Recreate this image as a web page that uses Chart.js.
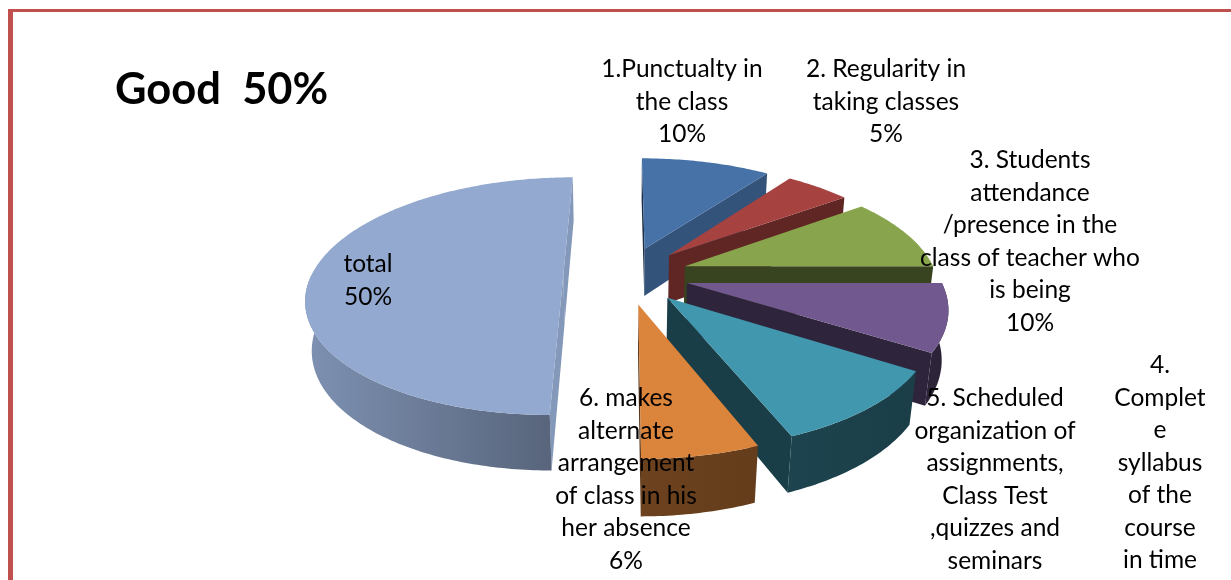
<!DOCTYPE html>
<html>
<head>
<meta charset="utf-8">
<title>Good 50%</title>
<script src="https://cdn.jsdelivr.net/npm/chart.js@4.4.1/dist/chart.umd.min.js"></script>
<style>
  html, body { margin: 0; padding: 0; background: #fff; overflow: hidden; }
  canvas { display: block; }
</style>
</head>
<body>
<canvas id="pieChart" width="1231" height="580"></canvas>
<script>
// slice names (line breaks as they wrap in the labels) and their shares in %
const categories = [
  '1.Punctualty in\nthe class',
  '2. Regularity in\ntaking classes',
  '3. Students\nattendance\n/presence in the\nclass of teacher who\nis being',
  '4.\nComplet\ne\nsyllabus\nof the\ncourse\nin time',
  '5. Scheduled\norganization of\nassignments,\nClass Test\n,quizzes and\nseminars',
  '6. makes\nalternate\narrangement\nof class in his\nher absence',
  'total'
];
const values = [10, 5, 10, 9, 10, 6, 50];
const chartTitle = 'Good  50%';

// look of the slices
const topColors = ['#4672a8', '#a6423f', '#88a44c', '#71588f', '#4097ae', '#da843c', '#93a9cf'];
// label anchor per slice: centre x, baseline of first line
const labelAnchors = [[682, 77], [886, 77], [1030, 168], [1160, 373], [995, 406], [626, 406], [368, 272]];
const LINE_H = 32.5;

const DEPTH = 57;      // thickness of the pie
const EXPLODE = 64;    // how far each slice is pulled out
// simple perspective camera looking down on the pie
const CAM_SIN = 0.457, CAM_COS = 0.889, CAM_DIST = 1285, FOCAL = 1259;

function shade(hex, f) {
  const n = parseInt(hex.slice(1), 16);
  const r = Math.round(((n >> 16) & 255) * f);
  const g = Math.round(((n >> 8) & 255) * f);
  const b = Math.round((n & 255) * f);
  return `rgb(${r},${g},${b})`;
}

// u: right, w: towards viewer, h: up  ->  screen point
function makeProjector(cx, cy) {
  return (u, w, h) => {
    const z = CAM_DIST - w * CAM_COS - h * CAM_SIN;
    return [cx + FOCAL * u / z, cy + FOCAL * (w * CAM_SIN - h * CAM_COS) / z];
  };
}

// draws the arcs as an exploded 3D pie (sides first, then top face, slice by slice)
const pie3d = {
  id: 'pie3d',
  beforeDatasetsDraw(chart) {
    const ctx = chart.ctx;
    const meta = chart.getDatasetMeta(0);
    const camW = CAM_DIST * CAM_COS;

    const poly = pts => {
      ctx.beginPath();
      pts.forEach(([px, py], k) => (k ? ctx.lineTo(px, py) : ctx.moveTo(px, py)));
      ctx.closePath();
    };

    meta.data.forEach((arc, i) => {
      const { x, y, startAngle, endAngle, outerRadius } =
        arc.getProps(['x', 'y', 'startAngle', 'endAngle', 'outerRadius'], true);
      const proj = makeProjector(x, y);
      const mid = (startAngle + endAngle) / 2;
      const eu = Math.cos(mid) * EXPLODE;
      const ew = Math.sin(mid) * EXPLODE;
      const R = outerRadius;
      const top = topColors[i];

      const rimPts = (t1, t2, h) => {
        const n = Math.max(2, Math.ceil(Math.abs(t2 - t1) / 0.015));
        const pts = [];
        for (let k = 0; k <= n; k++) {
          const t = t1 + (t2 - t1) * k / n;
          pts.push(proj(eu + R * Math.cos(t), ew + R * Math.sin(t), h));
        }
        return pts;
      };

      // cut faces that turn towards the camera
      [
        [startAngle, Math.sin(startAngle), -Math.cos(startAngle)],
        [endAngle, -Math.sin(endAngle), Math.cos(endAngle)]
      ].forEach(([a, nu, nw]) => {
        const facing = nu * (0 - eu) + nw * (camW - ew);
        if (facing <= 0) return;
        const ru = eu + R * Math.cos(a);
        const rw = ew + R * Math.sin(a);
        poly([proj(eu, ew, 0), proj(ru, rw, 0), proj(ru, rw, -DEPTH), proj(eu, ew, -DEPTH)]);
        ctx.fillStyle = shade(top, 0.41 + 0.49 * Math.max(0, nu) ** 2);
        ctx.fill();
      });

      // rounded outer wall, front half only
      const a1 = Math.max(startAngle, 0);
      const a2 = Math.min(endAngle, Math.PI);
      if (a2 > a1) {
        const g = ctx.createLinearGradient(x - R - EXPLODE, 0, x + R + EXPLODE, 0);
        g.addColorStop(0, shade(top, 0.86));
        g.addColorStop(0.52, shade(top, 0.5));
        g.addColorStop(1, shade(top, 0.4));
        poly(rimPts(a1, a2, 0).concat(rimPts(a2, a1, -DEPTH)));
        ctx.fillStyle = g;
        ctx.fill();
      }

      // top face
      poly([proj(eu, ew, 0)].concat(rimPts(startAngle, endAngle, 0)));
      ctx.fillStyle = top;
      ctx.fill();
    });
    return false;
  },
  afterDraw(chart) {
    const ctx = chart.ctx;
    ctx.save();

    // frame lines
    ctx.fillStyle = '#c0504d';
    ctx.fillRect(8, 9, chart.width, 3);
    ctx.fillRect(8, 9, 5, chart.height);

    // title
    ctx.fillStyle = '#000';
    ctx.font = 'bold 43.5px Lato';
    ctx.textAlign = 'left';
    ctx.textBaseline = 'alphabetic';
    ctx.fillText(chartTitle, 115, 104);

    // data labels
    ctx.font = '24.5px Lato';
    ctx.textAlign = 'center';
    categories.forEach((name, i) => {
      const lines = name.split('\n').concat(values[i] + '%');
      const [ax, ay] = labelAnchors[i];
      lines.forEach((line, j) => ctx.fillText(line, ax, ay + j * LINE_H));
    });
    ctx.restore();
  }
};

new Chart(document.getElementById('pieChart'), {
  type: 'pie',
  data: {
    labels: categories,
    datasets: [{
      data: values,
      backgroundColor: topColors,
      borderWidth: 0
    }]
  },
  options: {
    responsive: false,
    animation: false,
    events: [],
    radius: 257,
    layout: { padding: { left: 21, bottom: 30 } },
    plugins: {
      legend: { display: false },
      tooltip: { enabled: false }
    }
  },
  plugins: [pie3d]
});
</script>
</body>
</html>
